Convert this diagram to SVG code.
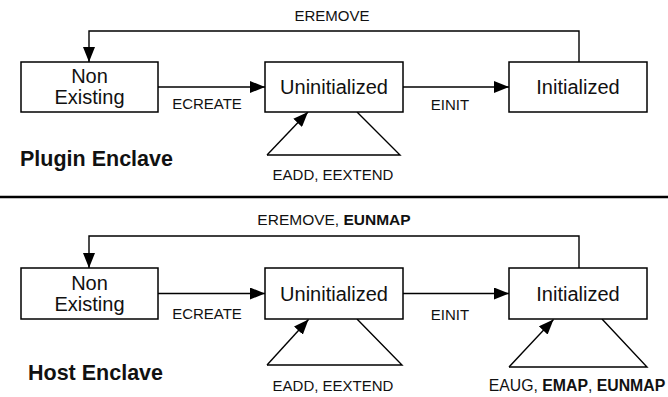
<svg xmlns="http://www.w3.org/2000/svg" width="668" height="397" viewBox="0 0 668 397">
<defs>
<marker id="ah" markerUnits="userSpaceOnUse" markerWidth="16" markerHeight="12" refX="15" refY="6" orient="auto">
<path d="M0,0 L15,6 L0,12 z" fill="#000"/>
</marker>
</defs>
<style>
.box{fill:#fff;stroke:#000;stroke-width:1.5}
.ln{fill:none;stroke:#000;stroke-width:1.4}
.nt{font-family:"Liberation Sans",Arial,Helvetica,sans-serif;font-size:20px;text-anchor:middle;fill:#111}
.el{font-family:"Liberation Sans",Arial,Helvetica,sans-serif;font-size:15px;text-anchor:middle;fill:#111}
.tt{font-family:"Liberation Sans",Arial,Helvetica,sans-serif;font-size:21.5px;font-weight:bold;fill:#111}
.b{font-weight:bold}
</style>
<rect width="668" height="397" fill="#fff"/>

<g id="connectors">
<path class="ln" d="M579,62 V31 H89 V62" marker-end="url(#ah)"/>
<path class="ln" d="M158,87 H265" marker-end="url(#ah)"/>
<path class="ln" d="M403,87 H509" marker-end="url(#ah)"/>
<path class="ln" d="M267,155 L308,112" marker-end="url(#ah)"/>
<path class="ln" d="M267,155 H400 L357,112"/>
<text class="el" x="332" y="21">EREMOVE</text>
<text class="el" x="207" y="109">ECREATE</text>
<text class="el" x="450" y="110">EINIT</text>
<text class="el" x="333" y="180">EADD, EEXTEND</text>

<path class="ln" d="M579,268 V236 H89 V268" marker-end="url(#ah)"/>
<path class="ln" d="M158,293.5 H265" marker-end="url(#ah)"/>
<path class="ln" d="M403,293.5 H509" marker-end="url(#ah)"/>
<path class="ln" d="M267,365 L308.5,319.5" marker-end="url(#ah)"/>
<path class="ln" d="M267,365 H402 L357,319"/>
<path class="ln" d="M509,367 L553.5,319.5" marker-end="url(#ah)"/>
<path class="ln" d="M509,367 H647 L602,319"/>
<text class="el" x="334" y="225" style="font-size:15.5px">EREMOVE, <tspan class="b">EUNMAP</tspan></text>
<text class="el" x="207" y="319">ECREATE</text>
<text class="el" x="450" y="320">EINIT</text>
<text class="el" x="333" y="391">EADD, EEXTEND</text>
<text class="el" x="577" y="391" style="font-size:15.8px">EAUG, <tspan class="b">EMAP</tspan>, <tspan class="b">EUNMAP</tspan></text>
</g>

<g id="plugin-nonexisting">
<rect class="box" x="21" y="62" width="137" height="50"/>
<text class="nt" x="89.5" y="83">Non</text>
<text class="nt" x="89.5" y="104">Existing</text>
</g>
<g id="plugin-uninitialized">
<rect class="box" x="265" y="62" width="138" height="50"/>
<text class="nt" x="334" y="94">Uninitialized</text>
</g>
<g id="plugin-initialized">
<rect class="box" x="509" y="62" width="138" height="50"/>
<text class="nt" x="578" y="94">Initialized</text>
</g>
<text class="tt" x="20" y="166">Plugin Enclave</text>

<line x1="0" y1="197" x2="668" y2="197" stroke="#000" stroke-width="2.5"/>

<g id="host-nonexisting">
<rect class="box" x="21" y="268" width="137" height="51"/>
<text class="nt" x="89.5" y="290">Non</text>
<text class="nt" x="89.5" y="311">Existing</text>
</g>
<g id="host-uninitialized">
<rect class="box" x="265" y="268" width="138" height="51"/>
<text class="nt" x="334" y="301">Uninitialized</text>
</g>
<g id="host-initialized">
<rect class="box" x="509" y="268" width="138" height="51"/>
<text class="nt" x="578" y="301">Initialized</text>
</g>
<text class="tt" x="28" y="380">Host Enclave</text>
</svg>
